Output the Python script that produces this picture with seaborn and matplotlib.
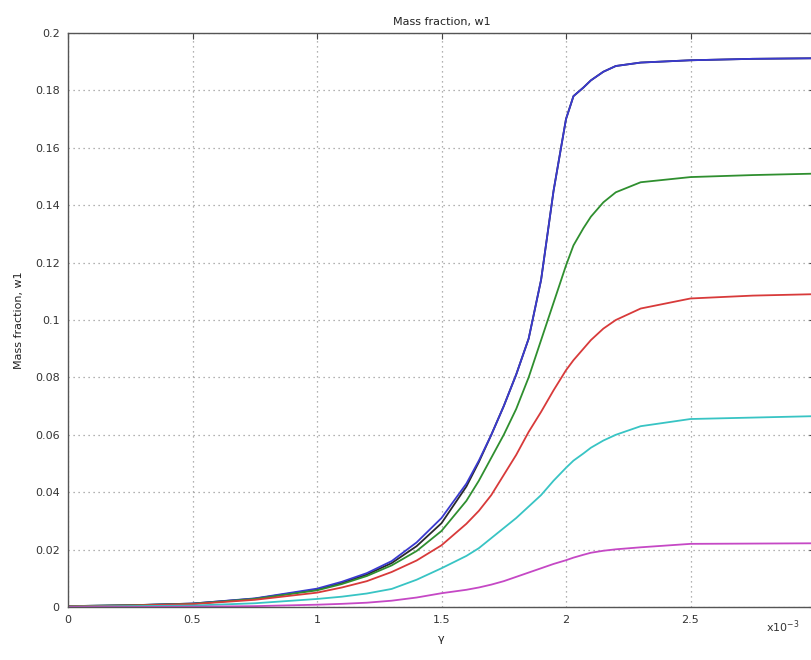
import numpy as np
import pandas as pd
import matplotlib
matplotlib.use("Agg")
import matplotlib.pyplot as plt
import seaborn as sns

sns.set_style("white")
plt.rcParams.update({
    'font.family': ['DejaVu Sans'],
    'font.size': 8,
    'xtick.direction': 'in',
    'ytick.direction': 'in',
})

# gamma, in units of 1e-3
gamma = [0.0, 0.25, 0.5, 0.75, 1.0, 1.1, 1.2, 1.3, 1.4, 1.5, 1.6, 1.65, 1.7, 1.75, 1.8,
         1.85, 1.9, 1.95, 2.0, 2.03, 2.07, 2.1, 2.15, 2.2, 2.3, 2.5, 2.75, 3.0]

w_blue = [0.0003, 0.0006, 0.0012, 0.003, 0.0064, 0.0088, 0.0118, 0.016, 0.0225, 0.031,
          0.043, 0.051, 0.06, 0.07, 0.081, 0.0935, 0.114, 0.145, 0.17, 0.178, 0.181,
          0.1835, 0.1865, 0.1885, 0.1897, 0.1905, 0.191, 0.1912]
w_black = [0.0003, 0.0006, 0.0012, 0.0029, 0.0061, 0.0084, 0.0113, 0.0153, 0.0212, 0.0292,
           0.042, 0.0505, 0.06, 0.07, 0.081, 0.0935, 0.114, 0.145, 0.17, 0.178, 0.181,
           0.1835, 0.1865, 0.1885, 0.1897, 0.1905, 0.191, 0.1912]
w_green = [0.0003, 0.0006, 0.0011, 0.0028, 0.0058, 0.008, 0.0108, 0.0145, 0.0195, 0.0265,
           0.037, 0.044, 0.052, 0.06, 0.069, 0.08, 0.093, 0.106, 0.119, 0.126, 0.132,
           0.136, 0.141, 0.1445, 0.148, 0.1498, 0.1505, 0.151]
w_red = [0.0002, 0.0005, 0.001, 0.0025, 0.005, 0.0068, 0.009, 0.0122, 0.0162, 0.0215,
         0.029, 0.0335, 0.039, 0.046, 0.053, 0.061, 0.068, 0.0755, 0.0825, 0.086, 0.09,
         0.093, 0.097, 0.1, 0.104, 0.1075, 0.1085, 0.109]
w_cyan = [0.0001, 0.0003, 0.0005, 0.0013, 0.0028, 0.0036, 0.0047, 0.0063, 0.0095, 0.0135,
          0.0178, 0.0205, 0.024, 0.0275, 0.031, 0.035, 0.039, 0.044, 0.0485, 0.051, 0.0535,
          0.0555, 0.058, 0.06, 0.063, 0.0655, 0.066, 0.0665]
w_magenta = [0.0, 0.0, 0.0001, 0.0003, 0.0008, 0.0011, 0.0015, 0.0022, 0.0033, 0.0048,
             0.006, 0.0068, 0.0078, 0.009, 0.0105, 0.012, 0.0135, 0.015, 0.0163, 0.0172,
             0.0182, 0.0189, 0.0196, 0.0201, 0.0208, 0.022, 0.0221, 0.0222]

series = {'black': w_black, 'blue': w_blue, 'green': w_green, 'red': w_red,
          'cyan': w_cyan, 'magenta': w_magenta}
colors = {'black': '#2a2a2a', 'blue': '#3a3ad0', 'green': '#2f8f2f', 'red': '#d83a3a',
          'cyan': '#38c4c4', 'magenta': '#c548c5'}

df = pd.concat([pd.DataFrame({'gamma': gamma, 'w1': v, 'run': k}) for k, v in series.items()])

fig = plt.figure(figsize=(8.11, 6.6), dpi=100)
ax = fig.add_axes([68 / 811, 53 / 660, 747 / 811, 574 / 660])

sns.lineplot(data=df, x='gamma', y='w1', hue='run', palette=colors, ax=ax,
             linewidth=1.3, legend=False, sort=False)

ax.set_xlim(0, 3)
ax.set_ylim(0, 0.2)
ax.set_xticks([0, 0.5, 1, 1.5, 2, 2.5, 3])
ax.set_xticklabels(['0', '0.5', '1', '1.5', '2', '2.5', '3'])
yt = [0, 0.02, 0.04, 0.06, 0.08, 0.1, 0.12, 0.14, 0.16, 0.18, 0.2]
ax.set_yticks(yt)
ax.set_yticklabels(['0', '0.02', '0.04', '0.06', '0.08', '0.1', '0.12', '0.14', '0.16', '0.18', '0.2'])
ax.tick_params(axis='both', which='both', top=True, right=True, length=4,
               colors='#444444', labelcolor='#333333', labelsize=8, pad=6)
ax.grid(True, linestyle=(0, (1, 3)), color='#999999', linewidth=0.9)
for s in ax.spines.values():
    s.set_color('#555555')
    s.set_linewidth(1.0)

ax.set_title('Mass fraction, w1', fontsize=8, color='#222222', pad=6)
ax.set_xlabel('γ', fontsize=8, color='#222222', labelpad=6)
ax.set_ylabel('Mass fraction, w1', fontsize=8, color='#222222', labelpad=8)
fig.text(766 / 811, 1 - 627 / 660, 'x10$^{-3}$', fontsize=8, color='#333333', va='center')

fig.savefig('out.png', dpi=100)
